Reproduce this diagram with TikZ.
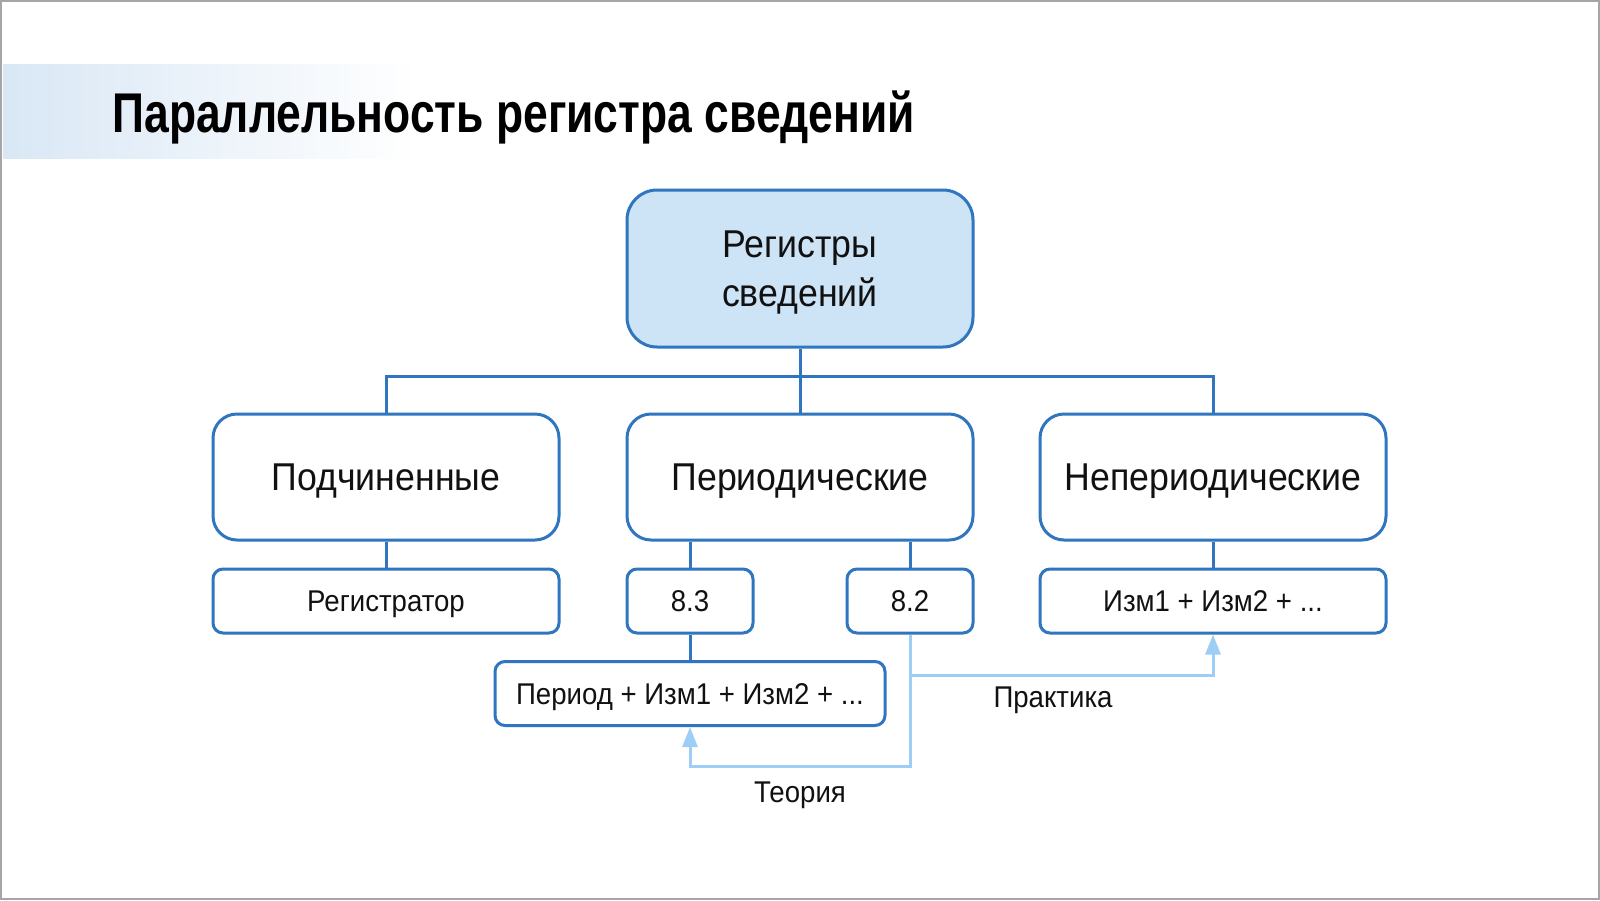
\documentclass[tikz,border=0pt]{standalone}
\usepackage{fontspec}
\setmainfont[FakeStretch=0.92]{Liberation Sans}
\newfontfamily\titlefont[FakeStretch=0.793]{Liberation Sans}
\usetikzlibrary{arrows.meta}
\definecolor{dblue}{HTML}{2F75BF}
\definecolor{lfill}{HTML}{CDE3F6}
\definecolor{larrow}{HTML}{9ECDF6}
\definecolor{band}{HTML}{D9E7F5}
\definecolor{txt}{HTML}{111111}
\tikzset{
  box/.style={draw=dblue, line width=1.5pt, rounded corners=12pt, text=txt, align=center, inner sep=0pt},
  bigbox/.style={box, minimum width=173pt, minimum height=63pt, font=\fontsize{19.4}{24.5}\selectfont},
  capbox/.style={text height=13.9pt, text depth=0pt},
  smallbox/.style={box, rounded corners=5pt, minimum height=32pt, font=\fontsize{15}{18}\selectfont, text height=10.7pt, text depth=0pt},
  conn/.style={draw=dblue, line width=1.5pt},
  larr/.style={draw=larrow, line width=1.5pt, -{Triangle[length=10pt,width=7.5pt]}},
  lab/.style={text=txt, font=\fontsize{15}{18}\selectfont, inner sep=0pt, text height=10.7pt, text depth=0pt}
}
\begin{document}
\begin{tikzpicture}[x=0.5pt,y=-0.5pt]
\useasboundingbox (0,0) rectangle (1600,900);
\fill[white] (0,0) rectangle (1600,900);
\shade[left color=band, right color=white] (3,64) rectangle (420,158);
\draw[gray!70, line width=1pt] (1,1) rectangle (1599,899);
\node[anchor=west, text=black, inner sep=0pt, font=\titlefont\bfseries\fontsize{28}{32}\selectfont] (title) at (112,117) {Параллельность регистра сведений};

\node[bigbox, fill=lfill, rounded corners=15pt, minimum height=78.5pt, text height=35pt, text depth=0pt] (top) at (800,268.5) {};
\node[text=txt, align=center, inner sep=0pt, font=\fontsize{19.4}{24.5}\selectfont, yshift=-2pt] (toptext) at (top.center) {Регистры\\сведений};
\node[bigbox, capbox] (p1) at (386,477) {Подчиненные};
\node[bigbox, capbox] (p2) at (800,477) {Периодические};
\node[bigbox, capbox] (p3) at (1213,477) {Непериодические};

\node[smallbox, minimum width=173pt] (reg) at (386,601) {Регистратор};
\node[smallbox, minimum width=63pt] (n83) at (690,601) {8.3};
\node[smallbox, minimum width=63pt] (n82) at (910,601) {8.2};
\node[smallbox, minimum width=173pt] (izm) at (1213,601) {Изм1 + Изм2 + ...};
\node[smallbox, minimum width=195pt] (per) at (690,693.5) {Период + Изм1 + Изм2 + ...};

\coordinate (bus) at (800,376.5);
\draw[conn] (top.south) -- (bus);
\draw[conn] (p1.north) |- (bus) -| (p3.north);
\draw[conn] (bus) -- (p2.north);
\draw[conn] (p1.south) -- (reg.north);
\draw[conn] (n83.north |- p2.south) -- (n83.north);
\draw[conn] (n82.north |- p2.south) -- (n82.north);
\draw[conn] (p3.south) -- (izm.north);
\draw[conn] (n83.south) -- (per.north);

\coordinate (tcorner) at (690,766);
\coordinate (pstart) at (910,675);
\draw[larr] (n82.south) |- (tcorner) -- (per.south);
\draw[larr] (pstart) -| (izm.south);
\node[lab] (teor) at (800,792) {Теория};
\node[lab] (prakt) at (1053,697) {Практика};
\end{tikzpicture}
\end{document}
